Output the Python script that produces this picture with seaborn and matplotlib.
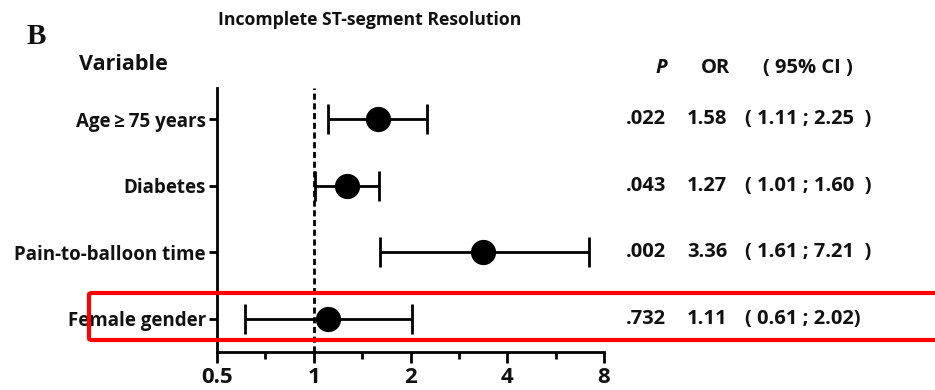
import numpy as np
import pandas as pd
import seaborn as sns
import matplotlib
matplotlib.use("Agg")
import matplotlib.pyplot as plt
from matplotlib.patches import FancyBboxPatch
from matplotlib.transforms import blended_transform_factory
from matplotlib.ticker import FixedLocator, NullFormatter

# Multivariable predictors of incomplete ST-segment resolution
variables = ["Age\u2009\u2265\u200975 years", "Diabetes", "Pain-to-balloon time", "Female gender"]
odds_ratio = [1.58, 1.27, 3.36, 1.11]
ci_low = [1.11, 1.01, 1.61, 0.61]
ci_high = [2.25, 1.60, 7.21, 2.02]
p_values = [".022", ".043", ".002", ".732"]
ci_close = ["  )", "  )", "  )", ")"]
x_ticks = [0.5, 1, 2, 4, 8]
x_tick_labels = ["0.5", "1", "2", "4", "8"]

df = pd.DataFrame({
    "variable": variables,
    "OR": odds_ratio,
    "lo": ci_low,
    "hi": ci_high,
    "p": p_values,
    "close": ci_close,
})
df["pos"] = np.arange(len(df))

sns.set_theme(style="white")
plt.rcParams["font.family"] = ["Open Sans", "DejaVu Sans"]
plt.rcParams["font.weight"] = "bold"

W, H = 935, 390
INK = "#111111"
ROW_FS = 14.5
fig = plt.figure(figsize=(W / 100, H / 100), dpi=100)
ax = fig.add_axes([217 / W, 1 - 352 / H, 387 / W, 264 / H])


def fx(px):
    return px / W


def fy(py):
    return 1 - py / H


# Confidence intervals with end caps
ax.errorbar(df["OR"], df["pos"],
            xerr=[df["OR"] - df["lo"], df["hi"] - df["OR"]],
            fmt="none", ecolor="black", elinewidth=2.0,
            capsize=11, capthick=2.0, zorder=2)
# Point estimates
sns.scatterplot(data=df, x="OR", y="pos", ax=ax, color="black",
                s=330, edgecolor="black", linewidth=0, zorder=3, legend=False)

# Reference line at OR = 1
ax.axvline(1, color="black", lw=2.0, ls=(0, (2.2, 1.3)), zorder=1)

ax.set_xscale("log", base=2)
ax.set_xlim(0.5, 8)
ax.set_ylim(3.5, -0.47)
ax.xaxis.set_major_locator(FixedLocator(x_ticks))
ax.set_xticklabels(x_tick_labels)
ax.xaxis.set_minor_locator(FixedLocator([np.sqrt(a * b) for a, b in zip(x_ticks[:-1], x_ticks[1:])]))
ax.xaxis.set_minor_formatter(NullFormatter())
ax.set_yticks(df["pos"])
ax.set_yticklabels(df["variable"])
ax.set_xlabel("")
ax.set_ylabel("")

for s in ["top", "right"]:
    ax.spines[s].set_visible(False)
for s in ["left", "bottom"]:
    ax.spines[s].set_color("black")
    ax.spines[s].set_linewidth(2.0)

ax.tick_params(axis="x", which="major", direction="out", length=8, width=2,
               color="black", labelsize=16, pad=3, bottom=True)
ax.tick_params(axis="x", which="minor", direction="out", length=5, width=2,
               color="black", bottom=True)
ax.tick_params(axis="y", direction="out", length=6, width=2, color="black",
               labelsize=13.5, pad=2, left=True)
for lab in ax.get_xticklabels() + ax.get_yticklabels():
    lab.set_fontweight("bold")
    lab.set_color(INK)

# Panel letter, title and column headers
fig.text(fx(27), fy(37), "B", fontsize=21, fontweight="bold",
         family=["Liberation Serif"], va="center", ha="left", color=INK)
fig.text(fx(370), fy(20), "Incomplete ST-segment Resolution", fontsize=12.7,
         fontweight="bold", ha="center", va="center", color=INK)
fig.text(fx(79), fy(64), "Variable", fontsize=15.5, fontweight="bold",
         ha="left", va="center", color=INK)
fig.text(fx(661), fy(68), "P", fontsize=ROW_FS, fontweight="bold",
         style="italic", ha="center", va="center", color=INK)
fig.text(fx(715), fy(68), "OR", fontsize=ROW_FS, fontweight="bold",
         ha="center", va="center", color=INK)
fig.text(fx(808), fy(68), "( 95% CI )", fontsize=ROW_FS, fontweight="bold",
         ha="center", va="center", color=INK)

# Per-row statistics
trans = blended_transform_factory(fig.transFigure, ax.transData)
for _, r in df.iterrows():
    ax.text(fx(666), r["pos"], r["p"], transform=trans, ha="right", va="center",
            fontsize=ROW_FS, fontweight="bold", clip_on=False, color=INK)
    ax.text(fx(707), r["pos"], f"{r['OR']:.2f}", transform=trans, ha="center",
            va="center", fontsize=ROW_FS, fontweight="bold", clip_on=False, color=INK)
    ax.text(fx(745), r["pos"], f"( {r['lo']:.2f} ; {r['hi']:.2f}{r['close']}",
            transform=trans, ha="left", va="center", fontsize=ROW_FS,
            fontweight="bold", clip_on=False, color=INK)

# Highlight box around the last row
box = FancyBboxPatch((fx(89), fy(340)), fx(860), (340 - 293) / H,
                     boxstyle="round,pad=0,rounding_size=0.004",
                     transform=fig.transFigure, fill=False,
                     edgecolor="#ff0000", linewidth=3.0, zorder=10,
                     clip_on=False)
fig.patches.append(box)

fig.savefig("out.png", dpi=100)
